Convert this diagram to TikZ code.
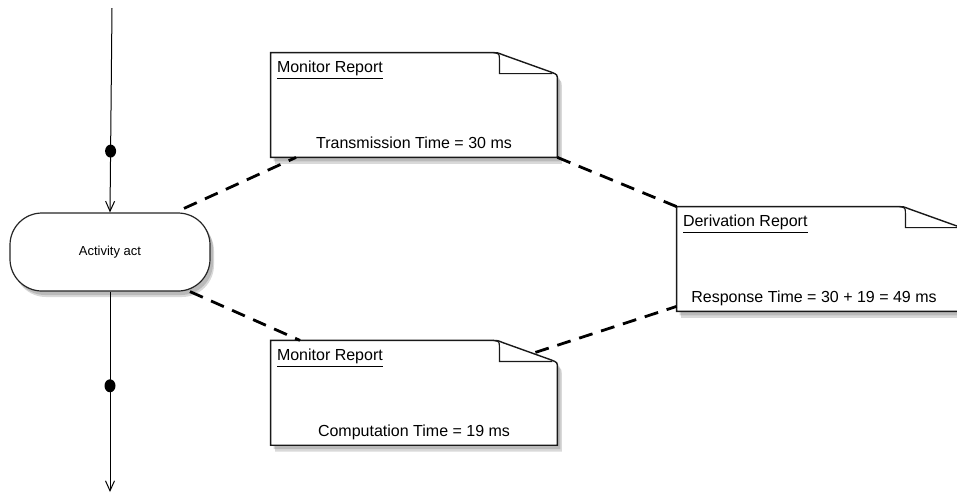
\documentclass[tikz,border=0pt]{standalone}
\usepackage{fontspec}
\setmainfont{Liberation Sans}
\usetikzlibrary{arrows.meta, positioning, shapes.geometric, shadows, backgrounds}

\begin{document}
\begin{tikzpicture}[x=0.5pt, y=-0.5pt, font=\fontsize{8}{9.6}\selectfont]
\tikzstyle{activity}=[rectangle, rounded corners=16pt, minimum width=100pt, minimum height=39pt, draw=black!85, line width=0.6pt, fill=white, drop shadow={shadow xshift=2pt, shadow yshift=-3pt, opacity=0.3}, drop shadow={shadow xshift=1.5pt, shadow yshift=-2pt, opacity=0.35}, font=\fontsize{6.5}{8}\selectfont]
\tikzstyle{doc}=[rectangle, minimum width=143pt, minimum height=52pt, inner sep=0pt]
\tikzstyle{docline}=[draw=black!90, line width=0.7pt, fill=white, drop shadow={shadow xshift=2.2pt, shadow yshift=-3.2pt, opacity=0.3}, drop shadow={shadow xshift=1.5pt, shadow yshift=-2pt, opacity=0.35}]
\tikzstyle{title}=[anchor=base west, inner sep=0pt, xshift=3pt, yshift=-10pt]
\tikzstyle{value}=[anchor=base, inner sep=0pt, yshift=4.5pt]
\tikzstyle{dot}=[ellipse, fill=black, inner sep=0pt, minimum width=5.5pt, minimum height=6.5pt]
\tikzstyle{flow}=[draw, line width=0.5pt, -{Straight Barb[length=5pt, width=4.5pt]}]
\tikzstyle{link}=[draw, line width=1.4pt, dash pattern=on 7pt off 4.5pt]
\useasboundingbox (0,0) rectangle (957,500);
% activity and the flow through it
\node[activity] (act) at (110,252) {Activity act};
\coordinate (in) at (112,8);
\coordinate (out) at (110,492);
\path[flow] (in) -- node[dot, pos=0.70] (d1) {} (act.north);
\path[flow] (act.south) -- node[dot, pos=0.47] (d2) {} (out);
% reports
\node[doc] (mon1) at (414,105) [label={[title]north west:\underline{Monitor Report}}, label={[value]south:Transmission Time = 30 ms}] {};
\node[doc] (mon2) [below=91.5pt of mon1, label={[title]north west:\underline{Monitor Report}}, label={[value]south:Computation Time = 19 ms}] {};
\node[doc] (der) at (820,259) [label={[title]north west:\underline{Derivation Report}}, label={[value, xshift=-3pt]south:Response Time = 30 + 19 = 49 ms}] {};
\begin{scope}[on background layer]
\foreach \d in {mon1,mon2,der}
  \path[docline] (\d.north west) -- ([xshift=-32pt]\d.north east)
    .. controls ([xshift=-30pt]\d.north east) .. ([xshift=-27pt, yshift=-1.2pt]\d.north east)
    -- ([xshift=-3pt, yshift=-9.8pt]\d.north east)
    .. controls ([yshift=-11pt]\d.north east) .. ([yshift=-14pt]\d.north east)
    -- (\d.south east) -- (\d.south west) -- cycle;
\end{scope}
\foreach \d in {mon1,mon2,der}
  \draw[black!90, line width=0.6pt] ([xshift=-32pt]\d.north east)
    .. controls ([xshift=-29pt, yshift=-0.5pt]\d.north east) .. ([xshift=-29pt, yshift=-3.5pt]\d.north east)
    -- ([xshift=-29pt, yshift=-10.5pt]\d.north east) -- ([xshift=-2.5pt, yshift=-10.5pt]\d.north east);
% links between activity and reports
\path[link] ([xshift=37pt, yshift=2pt]act.north) -- ([xshift=-59pt]mon1.south);
\path[link] ([xshift=40pt]act.south) -- ([xshift=-57pt]mon2.north);
\path[link] (mon1.south east) -- (der.north west);
\path[link] ([xshift=-11pt, yshift=-6pt]mon2.north east) -- ([yshift=2.5pt]der.south west);
\end{tikzpicture}
\end{document}
